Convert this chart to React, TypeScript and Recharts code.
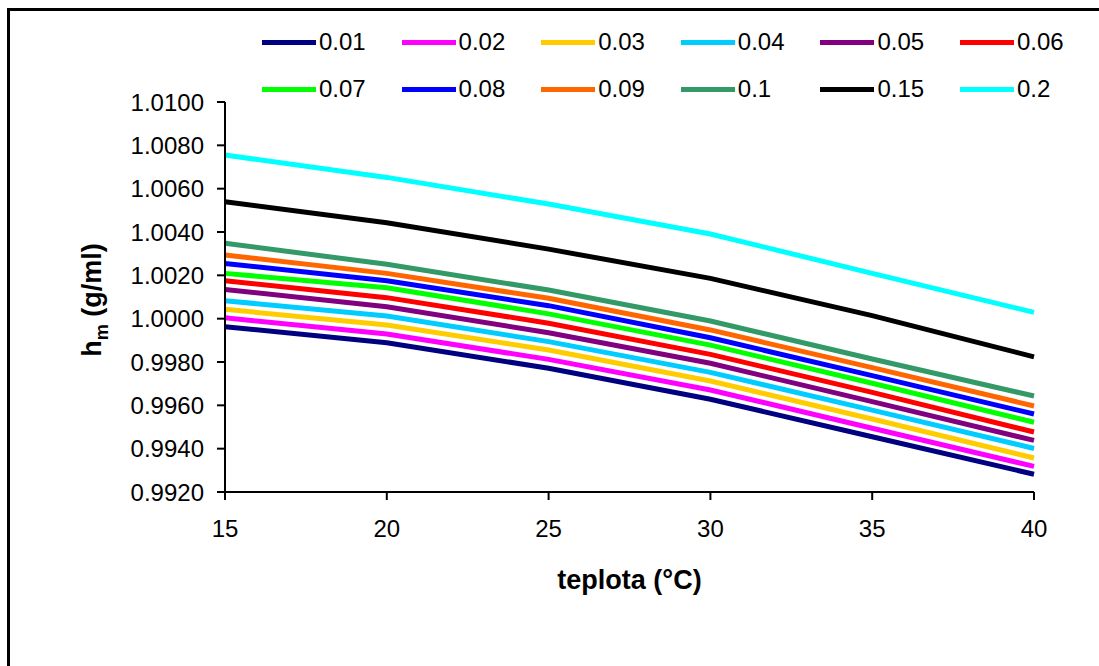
import { LineChart, Line, XAxis, YAxis } from 'recharts';

// temperature (°C) on the x axis
const temps = [15, 20, 25, 30, 35, 40];

const yTicks = [0.992, 0.994, 0.996, 0.998, 1.0, 1.002, 1.004, 1.006, 1.008, 1.01];

// concentration series
const c001 = [0.99963, 0.99889, 0.99771, 0.99628, 0.99455, 0.99282];
const c002 = [1.00004, 0.99929, 0.99812, 0.99671, 0.99494, 0.99318];
const c003 = [1.00043, 0.99971, 0.99855, 0.99712, 0.99537, 0.99357];
const c004 = [1.00083, 1.00012, 0.99894, 0.99752, 0.99578, 0.99401];
const c005 = [1.00135, 1.00055, 0.99935, 0.99794, 0.99617, 0.99438];
const c006 = [1.00175, 1.00097, 0.99979, 0.99835, 0.9966, 0.99477];
const c007 = [1.00209, 1.00143, 1.00022, 0.99878, 0.99702, 0.99522];
const c008 = [1.00255, 1.00175, 1.0006, 0.99912, 0.99737, 0.9956];
const c009 = [1.00294, 1.00209, 1.00094, 0.99948, 0.99774, 0.99597];
const c010 = [1.00348, 1.00251, 1.00132, 0.99989, 0.99814, 0.99643];
const c015 = [1.0054, 1.00443, 1.00321, 1.00186, 1.00014, 0.99824];
const c020 = [1.00755, 1.00652, 1.00529, 1.00391, 1.00209, 1.00029];

const seriesNames = ['0.01', '0.02', '0.03', '0.04', '0.05', '0.06', '0.07', '0.08', '0.09', '0.1', '0.15', '0.2'];
const seriesValues = [c001, c002, c003, c004, c005, c006, c007, c008, c009, c010, c015, c020];
const seriesColors = [
  '#000080', '#FF00FF', '#FFCC00', '#00CCFF', '#800080', '#FF0000',
  '#00FF00', '#0000FF', '#FF6600', '#339966', '#000000', '#00FFFF',
];

const data = temps.map((t, i) => {
  const row: Record<string, number> = { t };
  seriesNames.forEach((name, s) => {
    row[name] = seriesValues[s][i];
  });
  return row;
});

const font = '"Liberation Sans", Arial, sans-serif';

const LegendBox = () => (
  <div
    style={{
      position: 'absolute',
      left: 262,
      top: 27,
      display: 'grid',
      gridTemplateColumns: 'repeat(6, 139.6px)',
      rowGap: 17,
      fontFamily: font,
      fontSize: 24,
      color: '#000',
    }}
  >
    {seriesNames.map((name, i) => (
      <div key={name} style={{ display: 'flex', alignItems: 'center', height: 30 }}>
        <span style={{ display: 'inline-block', width: 54, height: 5, background: seriesColors[i], marginRight: 3 }} />
        <span>{name}</span>
      </div>
    ))}
  </div>
);

const App = () => {
  return (
    <div style={{ position: 'absolute', left: 0, top: 0, width: 1099, height: 666, overflow: 'hidden', background: '#fff' }}>
      <div
        style={{
          position: 'absolute',
          left: 7,
          top: 8,
          width: 1200,
          height: 800,
          borderTop: '3px solid #000',
          borderLeft: '3px solid #000',
        }}
      />
      <LegendBox />
      <div style={{ position: 'absolute', left: 0, top: 0 }}>
        <LineChart width={1099} height={666} data={data} margin={{ top: 102, right: 65, left: 125, bottom: 124 }}>
          <XAxis
            dataKey="t"
            type="number"
            domain={[15, 40]}
            ticks={temps}
            height={50}
            stroke="#000"
            strokeWidth={2}
            tickSize={8}
            tickMargin={20}
            tick={{ fill: '#000', fontSize: 24, fontFamily: font }}
          />
          <YAxis
            type="number"
            domain={[0.992, 1.01]}
            ticks={yTicks}
            width={100}
            stroke="#000"
            strokeWidth={2}
            tickSize={8}
            tickMargin={13}
            interval={0}
            tickFormatter={(v: number) => v.toFixed(4)}
            tick={{ fill: '#000', fontSize: 24, fontFamily: font }}
          />
          {seriesNames.map((name, i) => (
            <Line
              key={name}
              type="linear"
              dataKey={name}
              stroke={seriesColors[i]}
              strokeWidth={5}
              dot={false}
              isAnimationActive={false}
            />
          ))}
        </LineChart>
      </div>
      <div
        style={{
          position: 'absolute',
          left: 0,
          top: 565,
          width: 1259,
          textAlign: 'center',
          fontFamily: font,
          fontWeight: 'bold',
          fontSize: 27,
        }}
      >
        teplota (°C)
      </div>
      <div
        style={{
          position: 'absolute',
          left: 97,
          top: 300,
          transform: 'translate(-50%, -50%) rotate(-90deg)',
          whiteSpace: 'nowrap',
          fontFamily: font,
          fontWeight: 'bold',
          fontSize: 27,
          lineHeight: '30px',
        }}
      >
        h<sub style={{ fontSize: 18 }}>m</sub> (g/ml)
      </div>
    </div>
  );
};

export default App;
